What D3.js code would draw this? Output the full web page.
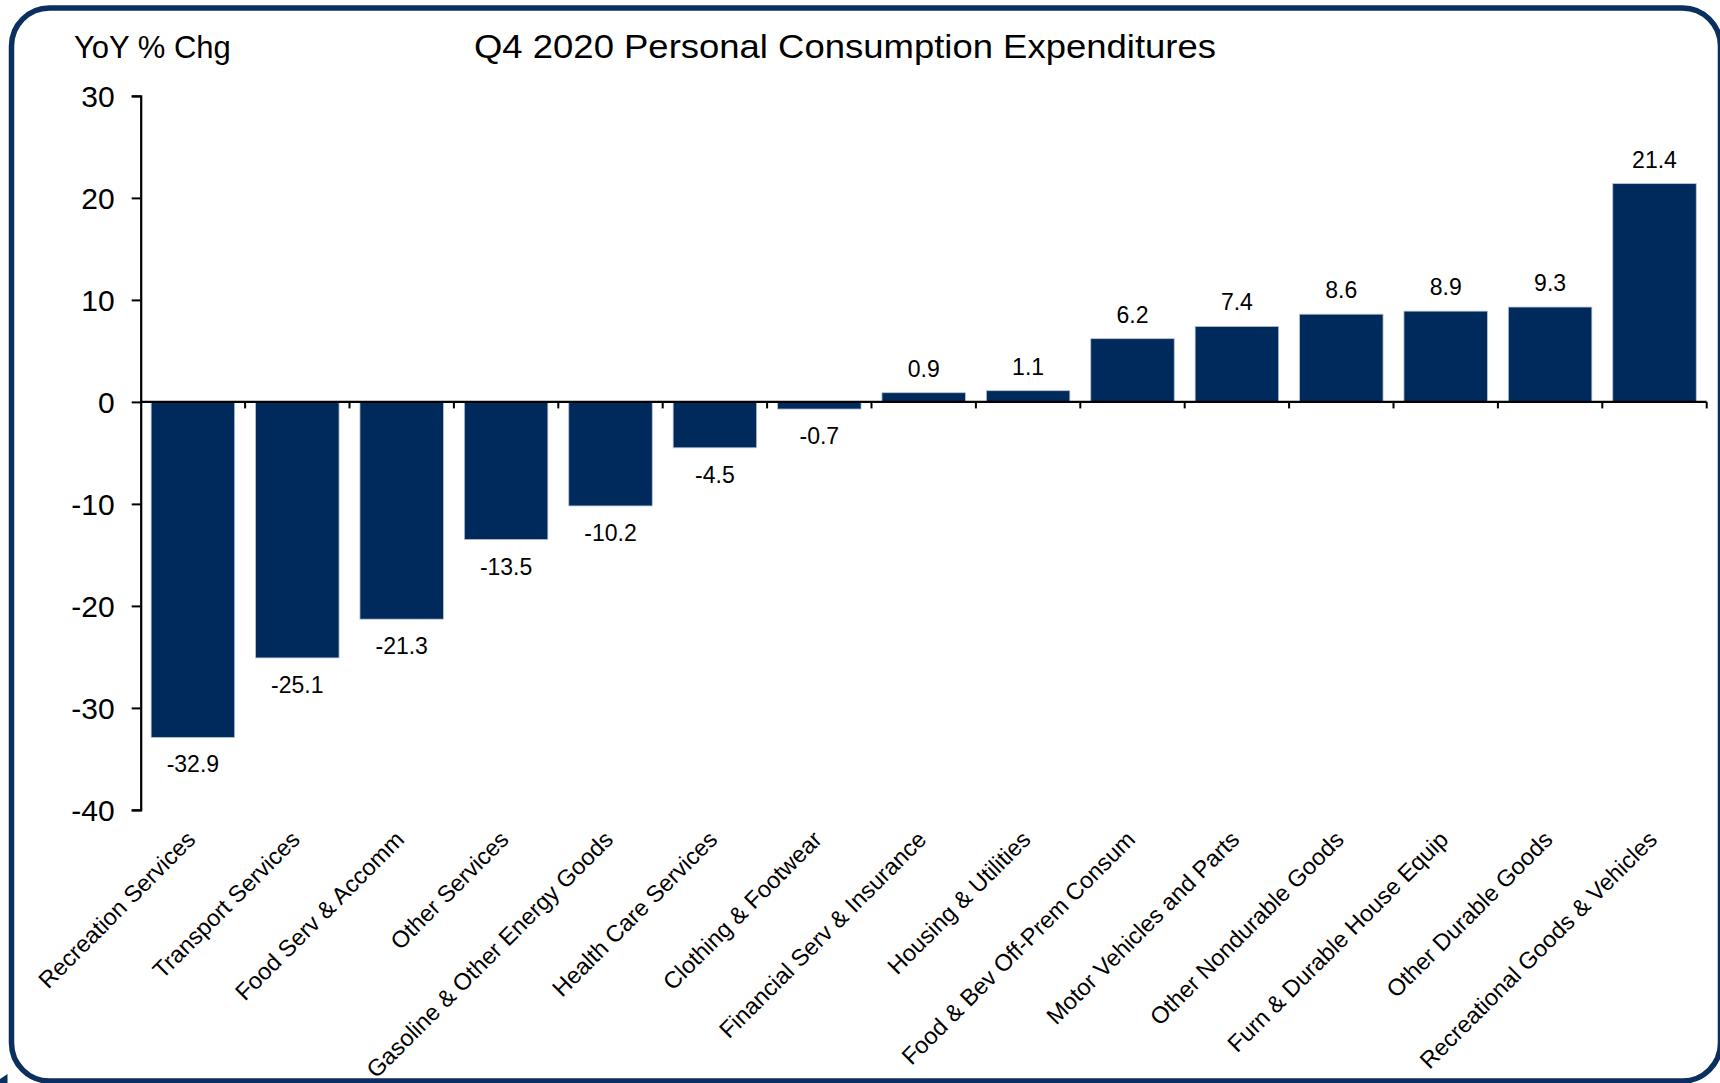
<!DOCTYPE html>
<html>
<head>
<meta charset="utf-8">
<script src="https://cdn.jsdelivr.net/npm/d3@7"></script>
<style>
  html, body { margin: 0; padding: 0; background: #ffffff; }
  svg { display: block; }
  text { font-family: "Liberation Sans", Arial, Helvetica, sans-serif; fill: #000; }
</style>
</head>
<body>
<svg id="chart" width="1720" height="1083"></svg>
<script>
// Q4 2020 personal consumption expenditures, year-over-year % change by category
const categories = [
  "Recreation Services",
  "Transport Services",
  "Food Serv & Accomm",
  "Other Services",
  "Gasoline & Other Energy Goods",
  "Health Care Services",
  "Clothing & Footwear",
  "Financial Serv & Insurance",
  "Housing & Utilities",
  "Food & Bev Off-Prem Consum",
  "Motor Vehicles and Parts",
  "Other Nondurable Goods",
  "Furn & Durable House Equip",
  "Other Durable Goods",
  "Recreational Goods & Vehicles"
];
const yoyChange = [-32.9, -25.1, -21.3, -13.5, -10.2, -4.5, -0.7, 0.9, 1.1, 6.2, 7.4, 8.6, 8.9, 9.3, 21.4];
const yTicks = [-40, -30, -20, -10, 0, 10, 20, 30];
const titleText = "Q4 2020 Personal Consumption Expenditures";
const unitText = "YoY % Chg";

const navy = "#002a5c";
const frame = "#0b2f5e";

// plain hyphen for negatives
const fmtValue = v => v.toFixed(1);
const fmtTick = v => String(v);

const svg = d3.select("#chart");

// rounded outer frame
svg.append("rect")
  .attr("x", 11.5).attr("y", 8)
  .attr("width", 1709).attr("height", 1073)
  .attr("rx", 38).attr("ry", 38)
  .attr("fill", "#ffffff")
  .attr("stroke", frame)
  .attr("stroke-width", 5.5);

svg.append("path")
  .attr("d", "M0,1079 L7.5,1074 L7.5,1083 L0,1083 Z")
  .attr("fill", frame);

const x = d3.scaleBand()
  .domain(categories)
  .range([140.7, 1706.7])
  .paddingInner(0.2)
  .paddingOuter(0.1);

const y = d3.scaleLinear()
  .domain([-40, 30])
  .range([809.9, 95.9]);

// bars
svg.append("g")
  .selectAll("rect")
  .data(categories)
  .join("rect")
  .attr("x", d => x(d))
  .attr("width", x.bandwidth())
  .attr("y", (d, i) => y(Math.max(0, yoyChange[i])))
  .attr("height", (d, i) => Math.abs(y(yoyChange[i]) - y(0)))
  .attr("fill", navy)
  .attr("stroke", "#b9c5d6")
  .attr("stroke-width", 0.8);

// value labels
svg.append("g")
  .selectAll("text")
  .data(categories)
  .join("text")
  .attr("x", d => x(d) + x.bandwidth() / 2)
  .attr("y", (d, i) => yoyChange[i] >= 0 ? y(yoyChange[i]) - 16 : y(yoyChange[i]) + 35)
  .attr("text-anchor", "middle")
  .style("font-size", "23px")
  .text((d, i) => fmtValue(yoyChange[i]));

// y axis
const yAxis = d3.axisLeft(y)
  .tickValues(yTicks)
  .tickSize(9)
  .tickPadding(17)
  .tickFormat(fmtTick);

const gy = svg.append("g")
  .attr("transform", "translate(140.7,0)")
  .call(yAxis);
gy.select(".domain").attr("stroke", "#000").attr("stroke-width", 2.2);
gy.selectAll(".tick line").attr("stroke", "#000").attr("stroke-width", 2);
gy.selectAll(".tick text")
  .style("font-size", "30px")
  .attr("fill", "#000")
  .attr("dy", "0.36em");

// category axis along zero line, ticks at band boundaries
const boundaries = d3.range(1, categories.length + 1);
const step = x.step();
const x0 = x.range()[0];

const gx = svg.append("g");
gx.append("line")
  .attr("x1", x0).attr("x2", x.range()[1])
  .attr("y1", y(0)).attr("y2", y(0))
  .attr("stroke", "#000").attr("stroke-width", 2.2);
gx.selectAll("line.tk")
  .data(boundaries)
  .join("line")
  .attr("class", "tk")
  .attr("x1", i => x0 + i * step).attr("x2", i => x0 + i * step)
  .attr("y1", y(0)).attr("y2", y(0) + 6.5)
  .attr("stroke", "#000").attr("stroke-width", 2);

// rotated category labels below the plot
svg.append("g")
  .selectAll("text")
  .data(categories)
  .join("text")
  .attr("transform", d => `translate(${x(d) + x.bandwidth() / 2 + 4},841) rotate(-45)`)
  .attr("text-anchor", "end")
  .style("font-size", "23.5px")
  .text(d => d);

// headings
svg.append("text")
  .attr("x", 74)
  .attr("y", 58.3)
  .style("font-size", "31px")
  .text(unitText);

svg.append("text")
  .attr("x", 474)
  .attr("y", 58.3)
  .attr("textLength", 742)
  .attr("lengthAdjust", "spacingAndGlyphs")
  .style("font-size", "32.5px")
  .text(titleText);
</script>
</body>
</html>
